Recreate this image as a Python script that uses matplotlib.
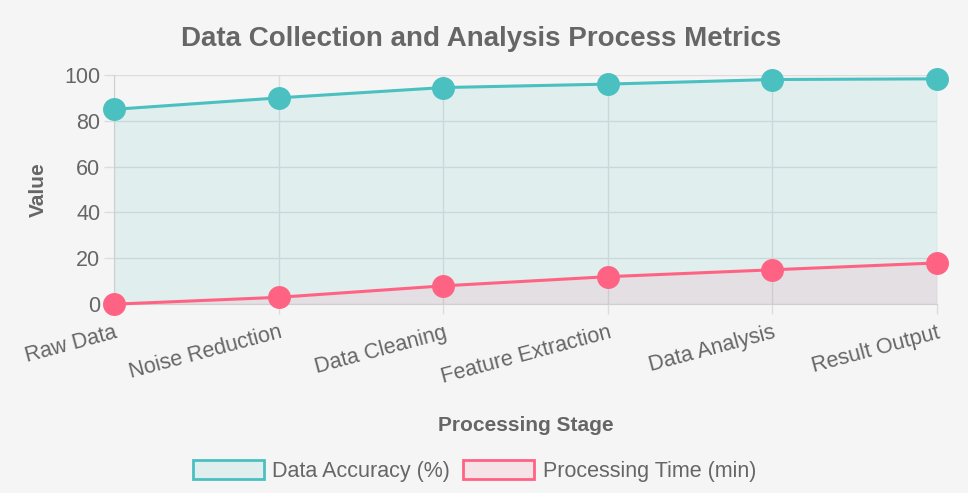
import matplotlib.pyplot as plt
from matplotlib.patches import Patch

stages = ["Raw Data", "Noise Reduction", "Data Cleaning", "Feature Extraction",
          "Data Analysis", "Result Output"]
accuracy = [85, 90, 94.5, 96, 98, 98.3]
proc_time = [0, 3, 8, 12, 15, 18]

teal = "#4bc0c0"
pink = "#ff6384"
bg = "#f5f5f5"
txt = "#666666"
grid_c = "#dcdcdc"

plt.rcParams['font.family'] = ['Liberation Sans', 'DejaVu Sans']

fig = plt.figure(figsize=(9.68, 4.93), dpi=100, facecolor=bg)
ax = fig.add_axes([0.118, 0.383, 0.850, 0.465])
ax.set_facecolor(bg)

x = list(range(len(stages)))
ax.fill_between(x, accuracy, 0, color=teal, alpha=0.12, linewidth=0)
ax.fill_between(x, proc_time, 0, color=pink, alpha=0.10, linewidth=0)
ax.plot(x, accuracy, color=teal, linewidth=2.2, marker='o', markersize=15.5,
        clip_on=False, zorder=5)
ax.plot(x, proc_time, color=pink, linewidth=2.2, marker='o', markersize=15.5,
        clip_on=False, zorder=5)

ax.set_xlim(0, len(stages) - 1)
ax.set_ylim(0, 100)
ax.set_yticks(range(0, 101, 20))
ax.set_xticks(x)
ax.set_xticklabels(stages, rotation=15, ha='right', rotation_mode='anchor')

ax.grid(True, color=grid_c, linewidth=1)
ax.set_axisbelow(True)
for side in ['top', 'right']:
    ax.spines[side].set_visible(False)
for side in ['left', 'bottom']:
    ax.spines[side].set_color("#cfcfcf")
ax.tick_params(axis='both', colors=grid_c, labelcolor=txt, labelsize=15.5,
               length=7, width=1)
ax.tick_params(axis='y', pad=3)
ax.tick_params(axis='x', pad=6)

ax.set_xlabel("Processing Stage", fontsize=15, fontweight='bold', color=txt,
              labelpad=20)
ax.set_ylabel("Value", fontsize=15, fontweight='bold', color=txt, labelpad=12)
fig.text(0.497, 0.92, "Data Collection and Analysis Process Metrics",
         ha='center', va='center', fontsize=20, fontweight='bold', color=txt)

handles = [Patch(facecolor=(75/255, 192/255, 192/255, 0.12), edgecolor=teal,
                 linewidth=2, label="Data Accuracy (%)"),
           Patch(facecolor=(255/255, 99/255, 132/255, 0.12), edgecolor=pink,
                 linewidth=2, label="Processing Time (min)")]
leg = fig.legend(handles=handles, loc='center', bbox_to_anchor=(0.49, 0.045),
                 ncol=2, frameon=False, fontsize=15.5, handlelength=3.3,
                 handleheight=1.0, handletextpad=0.4, columnspacing=0.6)
for t in leg.get_texts():
    t.set_color(txt)

fig.savefig("out.png", dpi=100, facecolor=bg)
